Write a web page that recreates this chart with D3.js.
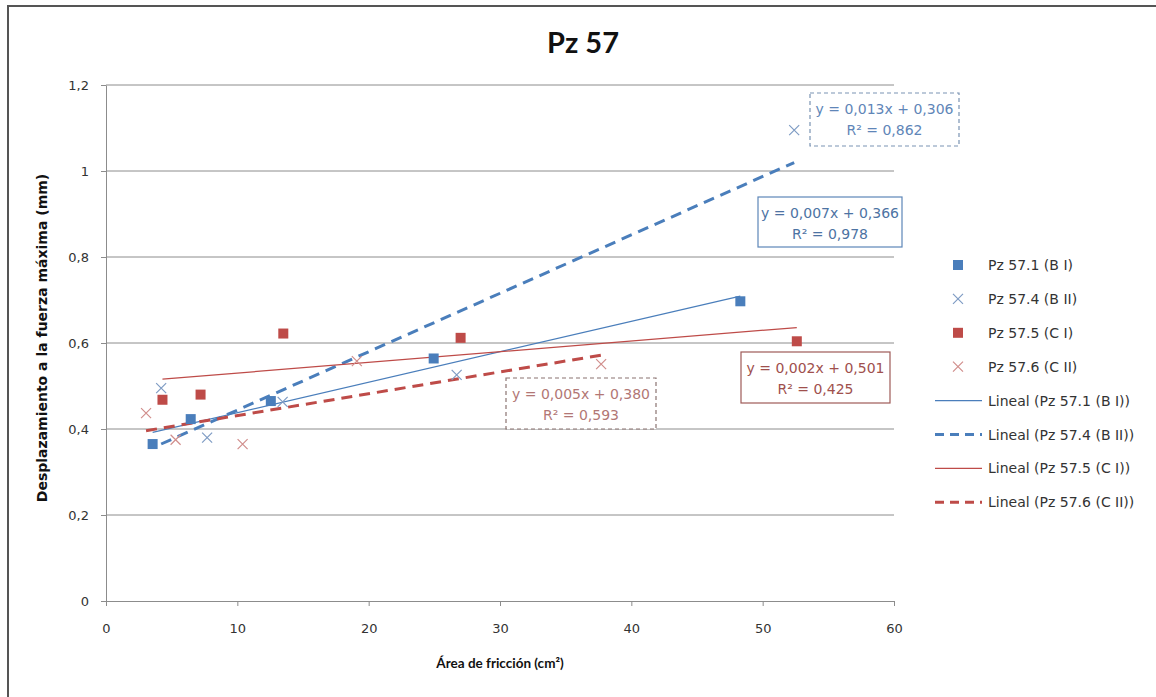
<!DOCTYPE html>
<html lang="es">
<head>
<meta charset="UTF-8">
<title>Pz 57</title>
<script src="https://d3js.org/d3.v7.min.js"></script>
<style>
    body { margin: 0; background: #fff; }
    svg text { font-family: "DejaVu Sans", sans-serif; }
    .grid line { stroke: #8c8c8c; stroke-width: 1; }
    .axis path, .axis line { stroke: #8c8c8c; }
    .axis text { font-size: 13px; fill: #333; font-family: "DejaVu Sans", sans-serif; }
</style>
</head>
<body>
<svg id="chart"></svg>
<script>
// series: Pz 57.1 (B I) .. Pz 57.6 (C II)
const seriesNames = ["Pz 57.1 (B I)", "Pz 57.4 (B II)", "Pz 57.5 (C I)", "Pz 57.6 (C II)"];
const xB1 = [3.55, 6.45, 12.55, 24.95, 48.3];
const yB1 = [0.365, 0.423, 0.465, 0.564, 0.697];
const xB2 = [4.2, 7.7, 13.45, 26.7, 52.4];
const yB2 = [0.495, 0.38, 0.463, 0.526, 1.095];
const xC1 = [4.3, 7.2, 13.5, 27.0, 52.6];
const yC1 = [0.468, 0.48, 0.622, 0.612, 0.604];
const xC2 = [3.05, 5.3, 10.4, 19.1, 37.7];
const yC2 = [0.437, 0.375, 0.365, 0.558, 0.551];
const equations = ["y = 0,007x + 0,366", "y = 0,013x + 0,306", "y = 0,002x + 0,501", "y = 0,005x + 0,380"];
const rSquared = ["R² = 0,978", "R² = 0,862", "R² = 0,425", "R² = 0,593"];
const xTicks = [0, 10, 20, 30, 40, 50, 60];
const yTicks = [0, 0.2, 0.4, 0.6, 0.8, 1, 1.2];

const W = 1156, H = 697;
const plot = { left: 106, top: 85, right: 894, bottom: 601 };

const svg = d3.select("#chart").attr("width", W).attr("height", H);

// chart frame (only left/top visible in the crop)
svg.append("path")
    .attr("d", `M8,${H} L8,6 L${W},6`)
    .attr("fill", "none").attr("stroke", "#555").attr("stroke-width", 2);

const x = d3.scaleLinear().domain([0, 60]).range([plot.left, plot.right]);
const y = d3.scaleLinear().domain([0, 1.2]).range([plot.bottom, plot.top]);
const fmt = d => String(d).replace(".", ",");

// gridlines
svg.append("g").attr("class", "grid")
    .selectAll("line").data(yTicks.filter(d => d > 0)).enter().append("line")
    .attr("x1", plot.left).attr("x2", plot.right)
    .attr("y1", d => y(d)).attr("y2", d => y(d));

// axes
svg.append("g").attr("class", "axis")
    .attr("transform", `translate(0,${plot.bottom})`)
    .call(d3.axisBottom(x).tickValues(xTicks).tickFormat(fmt).tickSizeInner(5).tickSizeOuter(0).tickPadding(18));
svg.append("g").attr("class", "axis")
    .attr("transform", `translate(${plot.left},0)`)
    .call(d3.axisLeft(y).tickValues(yTicks).tickFormat(fmt).tickSizeInner(5).tickSizeOuter(0).tickPadding(12));

// titles
svg.append("text").attr("x", 583).attr("y", 53).attr("text-anchor", "middle")
    .style("font-family", "Lato, sans-serif")
    .style("font-size", "29px").style("font-weight", "bold").attr("fill", "#111").text("Pz 57");
svg.append("text").attr("x", 500).attr("y", 668).attr("text-anchor", "middle")
    .style("font-family", "Lato, sans-serif")
    .style("font-size", "13.5px").style("font-weight", "bold").attr("fill", "#111").text("Área de fricción (cm²)");
svg.append("text").attr("transform", "translate(42,338) rotate(-90)").attr("text-anchor", "middle")
    .attr("dominant-baseline", "central")
    .style("font-size", "14px").style("font-weight", "bold").attr("fill", "#111")
    .text("Desplazamiento a la fuerza máxima (mm)");

const series = [
    { xs: xB1, ys: yB1, marker: "square", color: "#4a7ebb", dash: null, width: 1.2,
      box: [758, 197, 144, 50], boxDash: null, boxColor: "#5d86b8", textColor: "#4d73a3" },
    { xs: xB2, ys: yB2, marker: "x", color: "#4a7ebb", xcolor: "#7f9cc4", dash: "11,7", width: 3,
      box: [810, 93, 149, 53], boxDash: "4,3", boxColor: "#7a93b3", textColor: "#5f86b8" },
    { xs: xC1, ys: yC1, marker: "square", color: "#be4b48", dash: null, width: 1.2,
      box: [741, 352, 149, 51], boxDash: null, boxColor: "#9e5a58", textColor: "#a0504d" },
    { xs: xC2, ys: yC2, marker: "x", color: "#be4b48", xcolor: "#d18e8c", dash: "11,7", width: 3,
      box: [506, 378, 150, 51], boxDash: "4,3", boxColor: "#8a7371", textColor: "#b27775" }
];

// least squares fit for each series
function fit(xs, ys) {
    const mx = d3.mean(xs), my = d3.mean(ys);
    const sxy = d3.sum(xs, (v, i) => (v - mx) * (ys[i] - my));
    const sxx = d3.sum(xs, v => (v - mx) * (v - mx));
    const b = sxy / sxx;
    return { b: b, a: my - b * mx };
}

// trendlines
series.forEach(s => {
    const f = fit(s.xs, s.ys);
    const x0 = d3.min(s.xs), x1 = d3.max(s.xs);
    svg.append("line")
        .attr("x1", x(x0)).attr("y1", y(f.a + f.b * x0))
        .attr("x2", x(x1)).attr("y2", y(f.a + f.b * x1))
        .attr("stroke", s.color).attr("stroke-width", s.width)
        .attr("stroke-dasharray", s.dash);
});

function drawMarker(g, s, cx, cy) {
    if (s.marker === "square") {
        g.append("rect").attr("x", cx - 5).attr("y", cy - 5).attr("width", 10).attr("height", 10)
            .attr("fill", s.color);
    } else {
        g.append("path").attr("d", `M${cx - 5},${cy - 5}L${cx + 5},${cy + 5}M${cx - 5},${cy + 5}L${cx + 5},${cy - 5}`)
            .attr("stroke", s.xcolor).attr("stroke-width", 1.2).attr("fill", "none");
    }
}

// points
series.forEach(s => {
    const g = svg.append("g");
    s.xs.forEach((v, i) => drawMarker(g, s, x(v), y(s.ys[i])));
});

// trendline labels
series.forEach((s, i) => {
    const [bx, by, bw, bh] = s.box;
    svg.append("rect").attr("x", bx).attr("y", by).attr("width", bw).attr("height", bh)
        .attr("fill", "#fff").attr("stroke", s.boxColor).attr("stroke-width", 1.2)
        .attr("stroke-dasharray", s.boxDash);
    const t = svg.append("text").attr("text-anchor", "middle").attr("fill", s.textColor)
        .style("font-size", "14px");
    t.append("tspan").attr("x", bx + bw / 2).attr("y", by + 16).attr("dominant-baseline", "central").text(equations[i]);
    t.append("tspan").attr("x", bx + bw / 2).attr("y", by + 37).attr("dominant-baseline", "central").text(rSquared[i]);
});

// legend
const legend = svg.append("g");
const rowY = i => 265 + i * 33.9;
series.forEach((s, i) => {
    drawMarker(legend, s, 958, rowY(i));
    legend.append("text").attr("x", 988).attr("y", rowY(i)).attr("dominant-baseline", "central")
        .style("font-size", "14px").attr("fill", "#333").text(seriesNames[i]);
});
series.forEach((s, i) => {
    const yy = rowY(i + 4);
    legend.append("line").attr("x1", 935).attr("x2", 982).attr("y1", yy).attr("y2", yy)
        .attr("stroke", s.color).attr("stroke-width", s.width).attr("stroke-dasharray", s.dash ? "9,6" : null);
    legend.append("text").attr("x", 988).attr("y", yy).attr("dominant-baseline", "central")
        .style("font-size", "14px").attr("fill", "#333").text("Lineal (" + seriesNames[i] + ")");
});
</script>
</body>
</html>
